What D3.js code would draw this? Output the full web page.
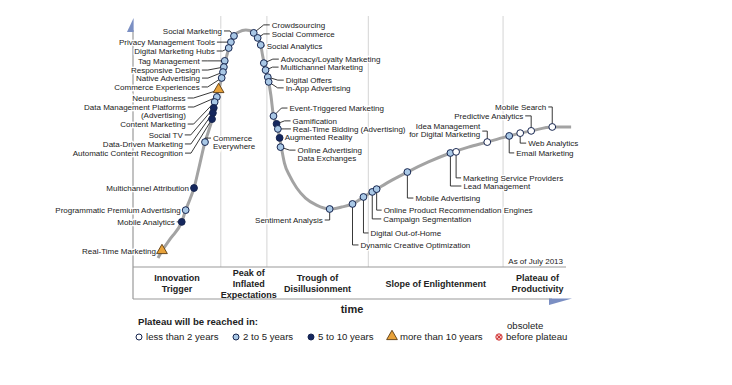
<!DOCTYPE html>
<html>
<head>
<meta charset="utf-8">
<script src="https://cdnjs.cloudflare.com/ajax/libs/d3/7.8.5/d3.min.js"></script>
<style>
body { margin: 0; background: #fff; }
text { font-family: "Liberation Sans", Arial, sans-serif; fill: #222; }
</style>
</head>
<body>
<div id="chart"></div>
<script>
// hype curve, time (0-100) vs expectations (0-100)
var curveTime = [5.7, 6.6, 8.6, 11.1, 12.0, 13.0, 13.9, 15.0, 16.4, 17.3, 18.0, 18.6, 19.5, 20.2, 20.7, 21.4, 22.3, 23.0, 24.1, 25.7,
    27.5, 28.4, 29.1, 29.5, 30.2, 30.9, 31.4, 32.0, 32.7, 33.4, 33.9, 34.5, 35.7, 37.3, 39.3, 41.8, 44.8, 47.5, 50.0, 52.5,
    55.5, 59.1, 62.5, 67.3, 72.3, 76.4, 80.7, 85.7, 88.2, 90.7, 95.5, 99.8];
var curveExp = [15.0, 17.5, 22.1, 27.9, 32.1, 36.1, 40.0, 47.1, 56.4, 60.7, 64.6, 70.7, 75.0, 79.3, 83.2, 87.5, 92.1, 94.3, 95.7, 96.4,
    95.7, 93.6, 91.1, 87.5, 82.1, 77.9, 73.2, 65.7, 62.9, 57.9, 53.6, 48.9, 44.3, 40.0, 36.4, 33.9, 32.5, 33.2, 34.3, 36.8,
    39.6, 42.9, 45.7, 49.3, 52.5, 54.6, 56.4, 58.6, 59.6, 60.4, 61.8, 61.8];

// [name, time, expectations, group]  group: 0 <2y, 1 2-5y, 2 5-10y, 3 >10y
var technologies = [
    ["Social Marketing", 23.0, 94.3, 1],
    ["Privacy Management Tools", 22.3, 92.1, 1],
    ["Digital Marketing Hubs", 21.8, 90.0, 1],
    ["Tag Management", 20.9, 85.4, 1],
    ["Responsive Design", 20.7, 83.2, 1],
    ["Native Advertising", 20.5, 81.4, 1],
    ["Commerce Experiences", 20.2, 79.3, 1],
    ["Neurobusiness", 19.5, 75.0, 3],
    ["Data Management Platforms\n(Advertising)", 19.1, 72.5, 1],
    ["Content Marketing", 18.6, 70.7, 1],
    ["Social TV", 18.4, 68.6, 2],
    ["Data-Driven Marketing", 18.2, 66.8, 2],
    ["Automatic Content Recognition", 18.0, 64.6, 2],
    ["Commerce\nEverywhere", 16.4, 56.4, 1],
    ["Multichannel Attribution", 13.9, 40.0, 2],
    ["Programmatic Premium Advertising", 12.0, 32.1, 1],
    ["Mobile Analytics", 11.1, 27.9, 2],
    ["Real-Time Marketing", 6.6, 17.5, 3],
    ["Crowdsourcing", 27.5, 95.4, 1],
    ["Social Commerce", 28.4, 93.6, 1],
    ["Social Analytics", 29.1, 91.1, 1],
    ["Advocacy/Loyalty Marketing", 29.8, 84.6, 1],
    ["Multichannel Marketing", 30.2, 82.1, 1],
    ["Digital Offers", 30.7, 79.6, 1],
    ["In-App Advertising", 30.9, 77.9, 1],
    ["Event-Triggered Marketing", 32.0, 65.7, 1],
    ["Gamification", 32.7, 62.9, 2],
    ["Real-Time Bidding (Advertising)", 33.0, 61.1, 1],
    ["Augmented Reality", 33.4, 57.9, 2],
    ["Online Advertising\nData Exchanges", 33.6, 54.6, 1],
    ["Sentiment Analysis", 44.8, 32.5, 1],
    ["Dynamic Creative Optimization", 50.0, 34.3, 1],
    ["Digital Out-of-Home", 52.5, 36.8, 1],
    ["Campaign Segmentation", 54.5, 38.6, 1],
    ["Online Product Recommendation Engines", 55.5, 39.6, 1],
    ["Mobile Advertising", 62.5, 45.7, 1],
    ["Lead Management", 72.3, 52.5, 1],
    ["Marketing Service Providers", 73.6, 52.9, 0],
    ["Idea Management\nfor Digital Marketing", 80.7, 56.4, 0],
    ["Email Marketing", 85.7, 58.6, 1],
    ["Web Analytics", 88.2, 59.6, 0],
    ["Predictive Analytics", 90.7, 60.4, 0],
    ["Mobile Search", 95.5, 61.8, 0]
];

var phaseNames = ["Innovation\nTrigger", "Peak of\nInflated\nExpectations", "Trough of\nDisillusionment", "Slope of Enlightenment", "Plateau of\nProductivity"];
var phaseBreaks = [0, 20.0, 30.5, 53.6, 84.3, 100];

var legendLabels = ["less than 2 years", "2 to 5 years", "5 to 10 years", "more than 10 years", "before plateau"];

// label placement: [type, dx, dy, leader dy]
var labelLayout = {
    "Social Marketing": ["L", -12, -5],
    "Privacy Management Tools": ["L", -16, 0],
    "Digital Marketing Hubs": ["L", -14, 3],
    "Tag Management": ["L", -25, 0],
    "Responsive Design": ["L", -24, 3],
    "Native Advertising": ["L", -23, 6],
    "Commerce Experiences": ["L", -22, 9],
    "Neurobusiness": ["L", -33, 8],
    "Data Management Platforms\n(Advertising)": ["L", -31, 10],
    "Content Marketing": ["L", -29, 22],
    "Social TV": ["L", -31, 27],
    "Data-Driven Marketing": ["L", -30, 31],
    "Automatic Content Recognition": ["L", -29, 34],
    "Commerce\nEverywhere": ["R", 8, -4],
    "Multichannel Attribution": ["L", -5, 0],
    "Programmatic Premium Advertising": ["L", -5, 0],
    "Mobile Analytics": ["L", -7, 0],
    "Real-Time Marketing": ["L", -6, 0],
    "Crowdsourcing": ["R", 18, -8],
    "Social Commerce": ["R", 14, -4],
    "Social Analytics": ["R", 6, 1],
    "Advocacy/Loyalty Marketing": ["R", 17, -4],
    "Multichannel Marketing": ["R", 15, -3],
    "Digital Offers": ["R", 18, 3],
    "In-App Advertising": ["R", 17, 6],
    "Event-Triggered Marketing": ["R", 16, -8],
    "Gamification": ["R", 16, -3],
    "Real-Time Bidding (Advertising)": ["R", 15, 0],
    "Augmented Reality": ["R", 5, -1],
    "Online Advertising\nData Exchanges": ["R", 17, 3],
    "Sentiment Analysis": ["DL", -7, 11],
    "Dynamic Creative Optimization": ["DR", 8, 41],
    "Digital Out-of-Home": ["DR", 7, 36],
    "Campaign Segmentation": ["DR", 11, 27],
    "Online Product Recommendation Engines": ["DR", 7, 21],
    "Mobile Advertising": ["DR", 8, 26],
    "Lead Management": ["DR", 13, 33],
    "Marketing Service Providers": ["DR", 7, 26],
    "Idea Management\nfor Digital Marketing": ["UL", -7, -16, -11],
    "Email Marketing": ["DR", 7, 17],
    "Web Analytics": ["DR", 8, 10],
    "Predictive Analytics": ["UL", -8, -15],
    "Mobile Search": ["UL", -6, -20]
};

var svgWidth = 732;
var svgHeight = 385;
var boxTop = 267;
var boxBottom = 299;
var groupFill = ["#ffffff", "#a9c8e6", "#15275e", "#e8a23a"];

var svg = d3.select("#chart")
    .append("svg")
    .attr("width", svgWidth)
    .attr("height", svgHeight);

var x = d3.scaleLinear().domain([0, 100]).range([133, 572]);
var y = d3.scaleLinear().domain([0, 100]).range([300, 20]);

// phase dividers
svg.selectAll(".divider")
    .data(phaseBreaks.slice(1, -1))
    .enter()
    .append("line")
    .attr("x1", d => x(d))
    .attr("x2", d => x(d))
    .attr("y1", 16)
    .attr("y2", boxTop)
    .attr("stroke", "#d4d4d4")
    .attr("stroke-width", 1);

// axes and phase box
svg.append("line")
    .attr("x1", x(0)).attr("x2", x(0))
    .attr("y1", 30).attr("y2", boxBottom)
    .attr("stroke", "#999").attr("stroke-width", 1.2);
svg.append("path")
    .attr("d", `M${x(0) + 0.6},18 L${x(0) + 0.6},32 L${x(0) - 6},32 Z`)
    .attr("fill", "#7b8fc3");
svg.append("line")
    .attr("x1", x(0)).attr("x2", 566)
    .attr("y1", boxTop).attr("y2", boxTop)
    .attr("stroke", "#999").attr("stroke-width", 1.2);
svg.append("line")
    .attr("x1", x(0)).attr("x2", 552)
    .attr("y1", boxBottom).attr("y2", boxBottom)
    .attr("stroke", "#999").attr("stroke-width", 1.2);
svg.append("path")
    .attr("d", `M549,${boxBottom - 0.6} L572,${boxBottom - 0.6} L549,${boxBottom + 6} Z`)
    .attr("fill", "#7b8fc3");

function addLines(sel, text, lx, ly, lh, anchor, cls) {
    text.split("\n").forEach(function(t, i) {
        sel.append("text")
            .attr("class", cls)
            .attr("x", lx)
            .attr("y", ly + i * lh)
            .attr("dy", "0.35em")
            .attr("text-anchor", anchor)
            .text(t);
    });
}

// phase labels
var phaseG = svg.append("g")
    .attr("font-size", "9px")
    .attr("font-weight", "bold");
phaseNames.forEach(function(p, i) {
    var n = p.split("\n").length;
    var cx = (x(phaseBreaks[i]) + x(phaseBreaks[i + 1])) / 2;
    if (i == 1) cx += 5;
    addLines(phaseG, p, cx, 283.5 - (n - 1) * 5.5, 11, "middle", "phase");
});

svg.append("text")
    .attr("x", 352).attr("y", 309).attr("dy", "0.35em")
    .attr("text-anchor", "middle")
    .attr("font-size", "11px").attr("font-weight", "bold")
    .text("time");

svg.append("text")
    .attr("x", 563).attr("y", 261).attr("dy", "0.35em")
    .attr("text-anchor", "end")
    .attr("font-size", "8px")
    .text("As of July 2013");

// the curve
var curvePoints = curveTime.map((t, i) => [t, curveExp[i]]);
var line = d3.line()
    .x(d => x(d[0]))
    .y(d => y(d[1]))
    .curve(d3.curveMonotoneX);
svg.append("path")
    .datum(curvePoints)
    .attr("d", line)
    .attr("fill", "none")
    .attr("stroke", "#a3a3a3")
    .attr("stroke-width", 3);

// leaders + labels
var leaderG = svg.append("g");
var labelG = svg.append("g")
    .attr("font-size", "8px")
    .attr("stroke", "#fff")
    .attr("stroke-width", 2.5)
    .attr("paint-order", "stroke");

technologies.forEach(function(d) {
    var lay = labelLayout[d[0]];
    var mx = x(d[1]), my = y(d[2]);
    var lx = mx + lay[1], ly = my + lay[2];
    var la = my + (lay[3] != null ? lay[3] : lay[2]);
    var path, anchor;
    if (lay[0] == "L") {
        anchor = "end";
        path = `M${lx + 2},${la} H${Math.min(lx + 8, mx)} L${mx},${my}`;
    } else if (lay[0] == "R") {
        anchor = "start";
        path = `M${mx},${my} L${Math.max(lx - 8, mx)},${la} H${lx - 2}`;
    } else if (lay[0] == "DL") {
        anchor = "end";
        path = `M${mx},${my} V${la} H${lx + 2}`;
    } else if (lay[0] == "DR") {
        anchor = "start";
        path = `M${mx},${my} V${la} H${lx - 2}`;
    } else {
        anchor = "end";
        path = `M${lx + 2},${la} H${mx} V${my}`;
    }
    leaderG.append("path")
        .attr("d", path)
        .attr("fill", "none")
        .attr("stroke", "#222")
        .attr("stroke-width", 0.9);
    addLines(labelG, d[0], lx, ly, 8.5, anchor, "label");
});

// markers
function drawMarker(sel, group, mx, my, r) {
    if (group == 3) {
        sel.append("path")
            .attr("d", d3.symbol().type(d3.symbolTriangle).size(50)())
            .attr("transform", `translate(${mx},${my - 0.5})`)
            .attr("fill", groupFill[3])
            .attr("stroke", "#5b3b12")
            .attr("stroke-width", 0.9);
    } else {
        sel.append("circle")
            .attr("cx", mx).attr("cy", my).attr("r", r || 3.4)
            .attr("fill", groupFill[group])
            .attr("stroke", "#16254f")
            .attr("stroke-width", 1);
    }
}
var markerG = svg.append("g");
technologies.forEach(function(d) {
    drawMarker(markerG, d[3], x(d[1]), y(d[2]));
});

// legend
var legendG = svg.append("g").attr("font-size", "9.6px");
legendG.append("text")
    .attr("x", 138).attr("y", 322).attr("dy", "0.35em")
    .attr("font-weight", "bold")
    .text("Plateau will be reached in:");
var legendX = [139, 236, 311, 392, 499];
legendLabels.forEach(function(l, i) {
    var ly = 337;
    if (i < 4) {
        drawMarker(legendG, i, legendX[i], ly, 3);
    } else {
        legendG.append("circle")
            .attr("cx", legendX[i]).attr("cy", ly).attr("r", 3.2)
            .attr("fill", "#f2b8b8").attr("stroke", "#d23b3b").attr("stroke-width", 1);
        legendG.append("path")
            .attr("d", `M${legendX[i] - 2},${ly - 2} L${legendX[i] + 2},${ly + 2} M${legendX[i] + 2},${ly - 2} L${legendX[i] - 2},${ly + 2}`)
            .attr("stroke", "#d23b3b").attr("stroke-width", 1);
        legendG.append("text")
            .attr("x", legendX[i] + 8).attr("y", 326).attr("dy", "0.35em")
            .text("obsolete");
    }
    legendG.append("text")
        .attr("x", legendX[i] + (i == 3 ? 8 : 7)).attr("y", ly).attr("dy", "0.35em")
        .text(l);
});
</script>
</body>
</html>
